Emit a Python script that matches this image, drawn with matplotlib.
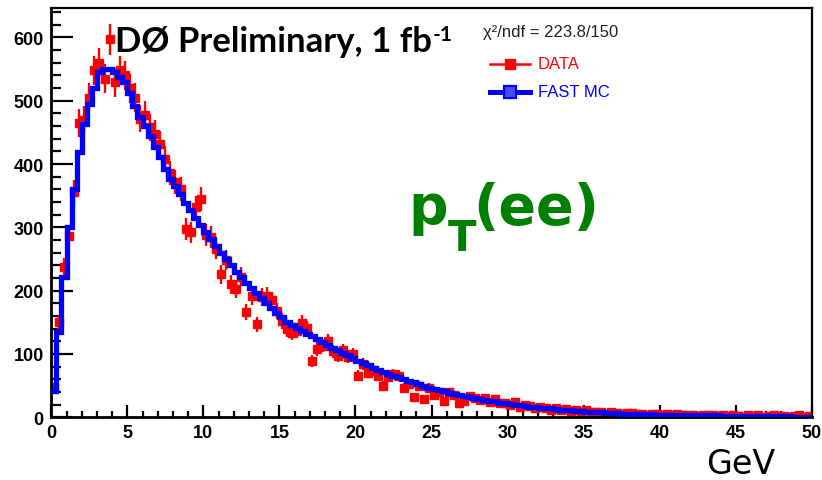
import numpy as np
import matplotlib
matplotlib.use("Agg")
import matplotlib.pyplot as plt
from matplotlib.ticker import MultipleLocator
from matplotlib.lines import Line2D

# ---- histogram binning: 150 bins from 0 to 50 GeV ----
x_min, x_max, n_bins = 0.0, 50.0, 150

# Fast MC prediction per bin
mc_counts = [
    42, 134, 222, 300, 361, 419, 463, 495, 521, 545, 551, 550,
    545, 537, 529, 513, 492, 474, 460, 444, 427, 411, 393, 377,
    365, 352, 339, 327, 315, 303,
    292, 281, 270, 260, 250, 240,
    230, 221, 212, 204, 196, 188,
    180, 172, 165, 158, 151, 146,
    141, 137, 132, 128, 124, 119,
    115, 110, 106, 102, 98, 94,
    89, 85, 82, 78, 75, 72,
    69, 66, 63, 60, 57, 55,
    52, 50, 47, 45, 43, 41,
    39, 37, 35, 34, 32, 30,
    29, 27, 26, 25, 23, 22,
    21, 20, 19, 18, 17, 16,
    15, 14, 14, 13, 12, 12,
    11, 10, 10, 9, 9, 8,
    8, 7, 7, 7, 6, 6,
    6, 5, 5, 5, 5, 4,
    4, 4, 4, 3, 3, 3,
    3, 3, 3, 3, 3, 3,
    2, 2, 2, 2, 2, 2,
    2, 2, 2, 2, 2, 2,
    2, 2, 1, 1, 1, 1,
]

# Observed data per bin
data_counts = [
    48, 150, 237, 287, 356, 465, 470, 505, 548, 560, 535, 597,
    529, 548, 540, 520, 505, 472, 478, 458, 448, 432, 408, 386,
    372, 360, 297, 292, 332, 345,
    288, 285, 266, 226, 248, 210,
    203, 222, 166, 192, 147, 190,
    192, 185, 168, 152, 139, 133,
    137, 149, 141, 89, 108, 113,
    121, 104, 97, 106, 96, 100,
    66, 84, 70, 74, 66, 50,
    63, 68, 66, 47, 52, 32,
    50, 29, 47, 36, 40, 26,
    40, 36, 22, 26, 33, 31,
    27, 30, 24, 29, 22, 23,
    20, 24, 17, 20, 18, 14,
    16, 15, 12, 14, 11, 13,
    10, 11, 9, 11, 8, 9,
    9, 6, 8, 7, 5, 7,
    7, 5, 6, 4, 6, 5,
    3, 5, 4, 5, 3, 4,
    4, 2, 3, 4, 3, 2,
    3, 2, 3, 2, 1, 3,
    2, 3, 1, 2, 3, 2,
    2, 1, 2, 3, 1, 2,
]

x_ticks = [0, 5, 10, 15, 20, 25, 30, 35, 40, 45, 50]
y_ticks = [0, 100, 200, 300, 400, 500, 600]

chi2_label = "χ²/ndf = 223.8/150"
data_label = "DATA"
mc_label = "FAST MC"
title_label = "DØ Preliminary, 1 fb"
title_sup = "-1"
x_unit = "GeV"

W, H = 822, 481
fig = plt.figure(figsize=(W / 100, H / 100), dpi=100)
fig.patch.set_facecolor("white")


def fx(px):
    return px / W


def fy(py):
    return 1 - py / H


ax = fig.add_axes([fx(51.3), fy(418.3), fx(811.7) - fx(51.3), fy(9) - fy(418.3)])

edges = np.linspace(x_min, x_max, n_bins + 1)
centers = 0.5 * (edges[:-1] + edges[1:])
half_w = 0.5 * (edges[1] - edges[0])
data = np.asarray(data_counts, dtype=float)
mc = np.asarray(mc_counts, dtype=float)

# data points with statistical errors
ax.errorbar(centers, data, yerr=np.sqrt(data), xerr=half_w, fmt="s",
            color="#ff0000", ms=6.3, elinewidth=1.7, capsize=0, zorder=2)
# MC histogram outline
ax.stairs(mc, edges, baseline=None, color="#0000ff", lw=3.8, zorder=3)

ax.set_xlim(x_min, x_max)
ax.set_ylim(0, 646.6)
ax.set_xticks(x_ticks)
ax.set_yticks(y_ticks)
ax.xaxis.set_minor_locator(MultipleLocator(1))
ax.yaxis.set_minor_locator(MultipleLocator(20))

tick_font = dict(family="Liberation Sans", weight="bold", size=13)
ax.set_xticklabels([str(v) for v in x_ticks], fontdict=tick_font)
ax.set_yticklabels([str(v) for v in y_ticks], fontdict=tick_font)

ax.tick_params(axis="x", which="major", direction="in", length=9, width=1.6, pad=5)
ax.tick_params(axis="x", which="minor", direction="in", length=4.5, width=1.6)
ax.tick_params(axis="y", which="major", direction="in", length=16, width=1.6, pad=5.5)
ax.tick_params(axis="y", which="minor", direction="in", length=7.5, width=1.6)
ax.tick_params(top=False, right=False, which="both")

for side in ["left", "bottom"]:
    ax.spines[side].set_linewidth(2.0)
for side in ["top", "right"]:
    ax.spines[side].set_linewidth(1.6)

# experiment label with superscript
title = fig.text(fx(115), fy(52), title_label, family="Lato", weight="bold",
                 size=25, color="black", ha="left", va="baseline")
ax.annotate(title_sup, xy=(1.0, 1.0), xycoords=title, xytext=(0.5, 1),
            textcoords="offset points", ha="left", va="top",
            family="Lato", weight="bold", size=15, color="black")

# fit quality and legend
fig.text(fx(483), fy(33), chi2_label, family="Liberation Sans", size=12,
         color="#202020", ha="left", va="center")

leg_font = dict(family="Liberation Sans", size=12, ha="left", va="center")
fig.add_artist(Line2D([fx(490), fx(530)], [fy(65), fy(65)], color="#ff0000", lw=1.8))
fig.add_artist(Line2D([fx(510)], [fy(65)], marker="s", ms=7, color="#ff0000", lw=0))
fig.text(fx(538), fy(65), data_label, color="#ff0000", **leg_font)

fig.add_artist(Line2D([fx(490), fx(530)], [fy(93), fy(93)], color="#0000ff", lw=3.6))
fig.add_artist(Line2D([fx(510)], [fy(93)], marker="s", ms=8, mfc="#4a4aff",
                      mec="#0000ff", mew=1.6, lw=0))
fig.text(fx(538), fy(93), mc_label, color="#0000ff", **leg_font)

# observable label
green = "#008000"
big = dict(family="DejaVu Sans", weight="bold", color=green, ha="left", va="baseline")
fig.text(fx(408), fy(224), "p", size=40, **big)
fig.text(fx(448), fy(251), "T", size=30, **big)
fig.text(fx(473), fy(224), "(ee)", size=40, **big)

# axis unit
fig.text(fx(706), fy(474), x_unit, family="DejaVu Sans", size=24,
         color="black", ha="left", va="baseline")

fig.savefig("out.png", dpi=100, facecolor="white")
